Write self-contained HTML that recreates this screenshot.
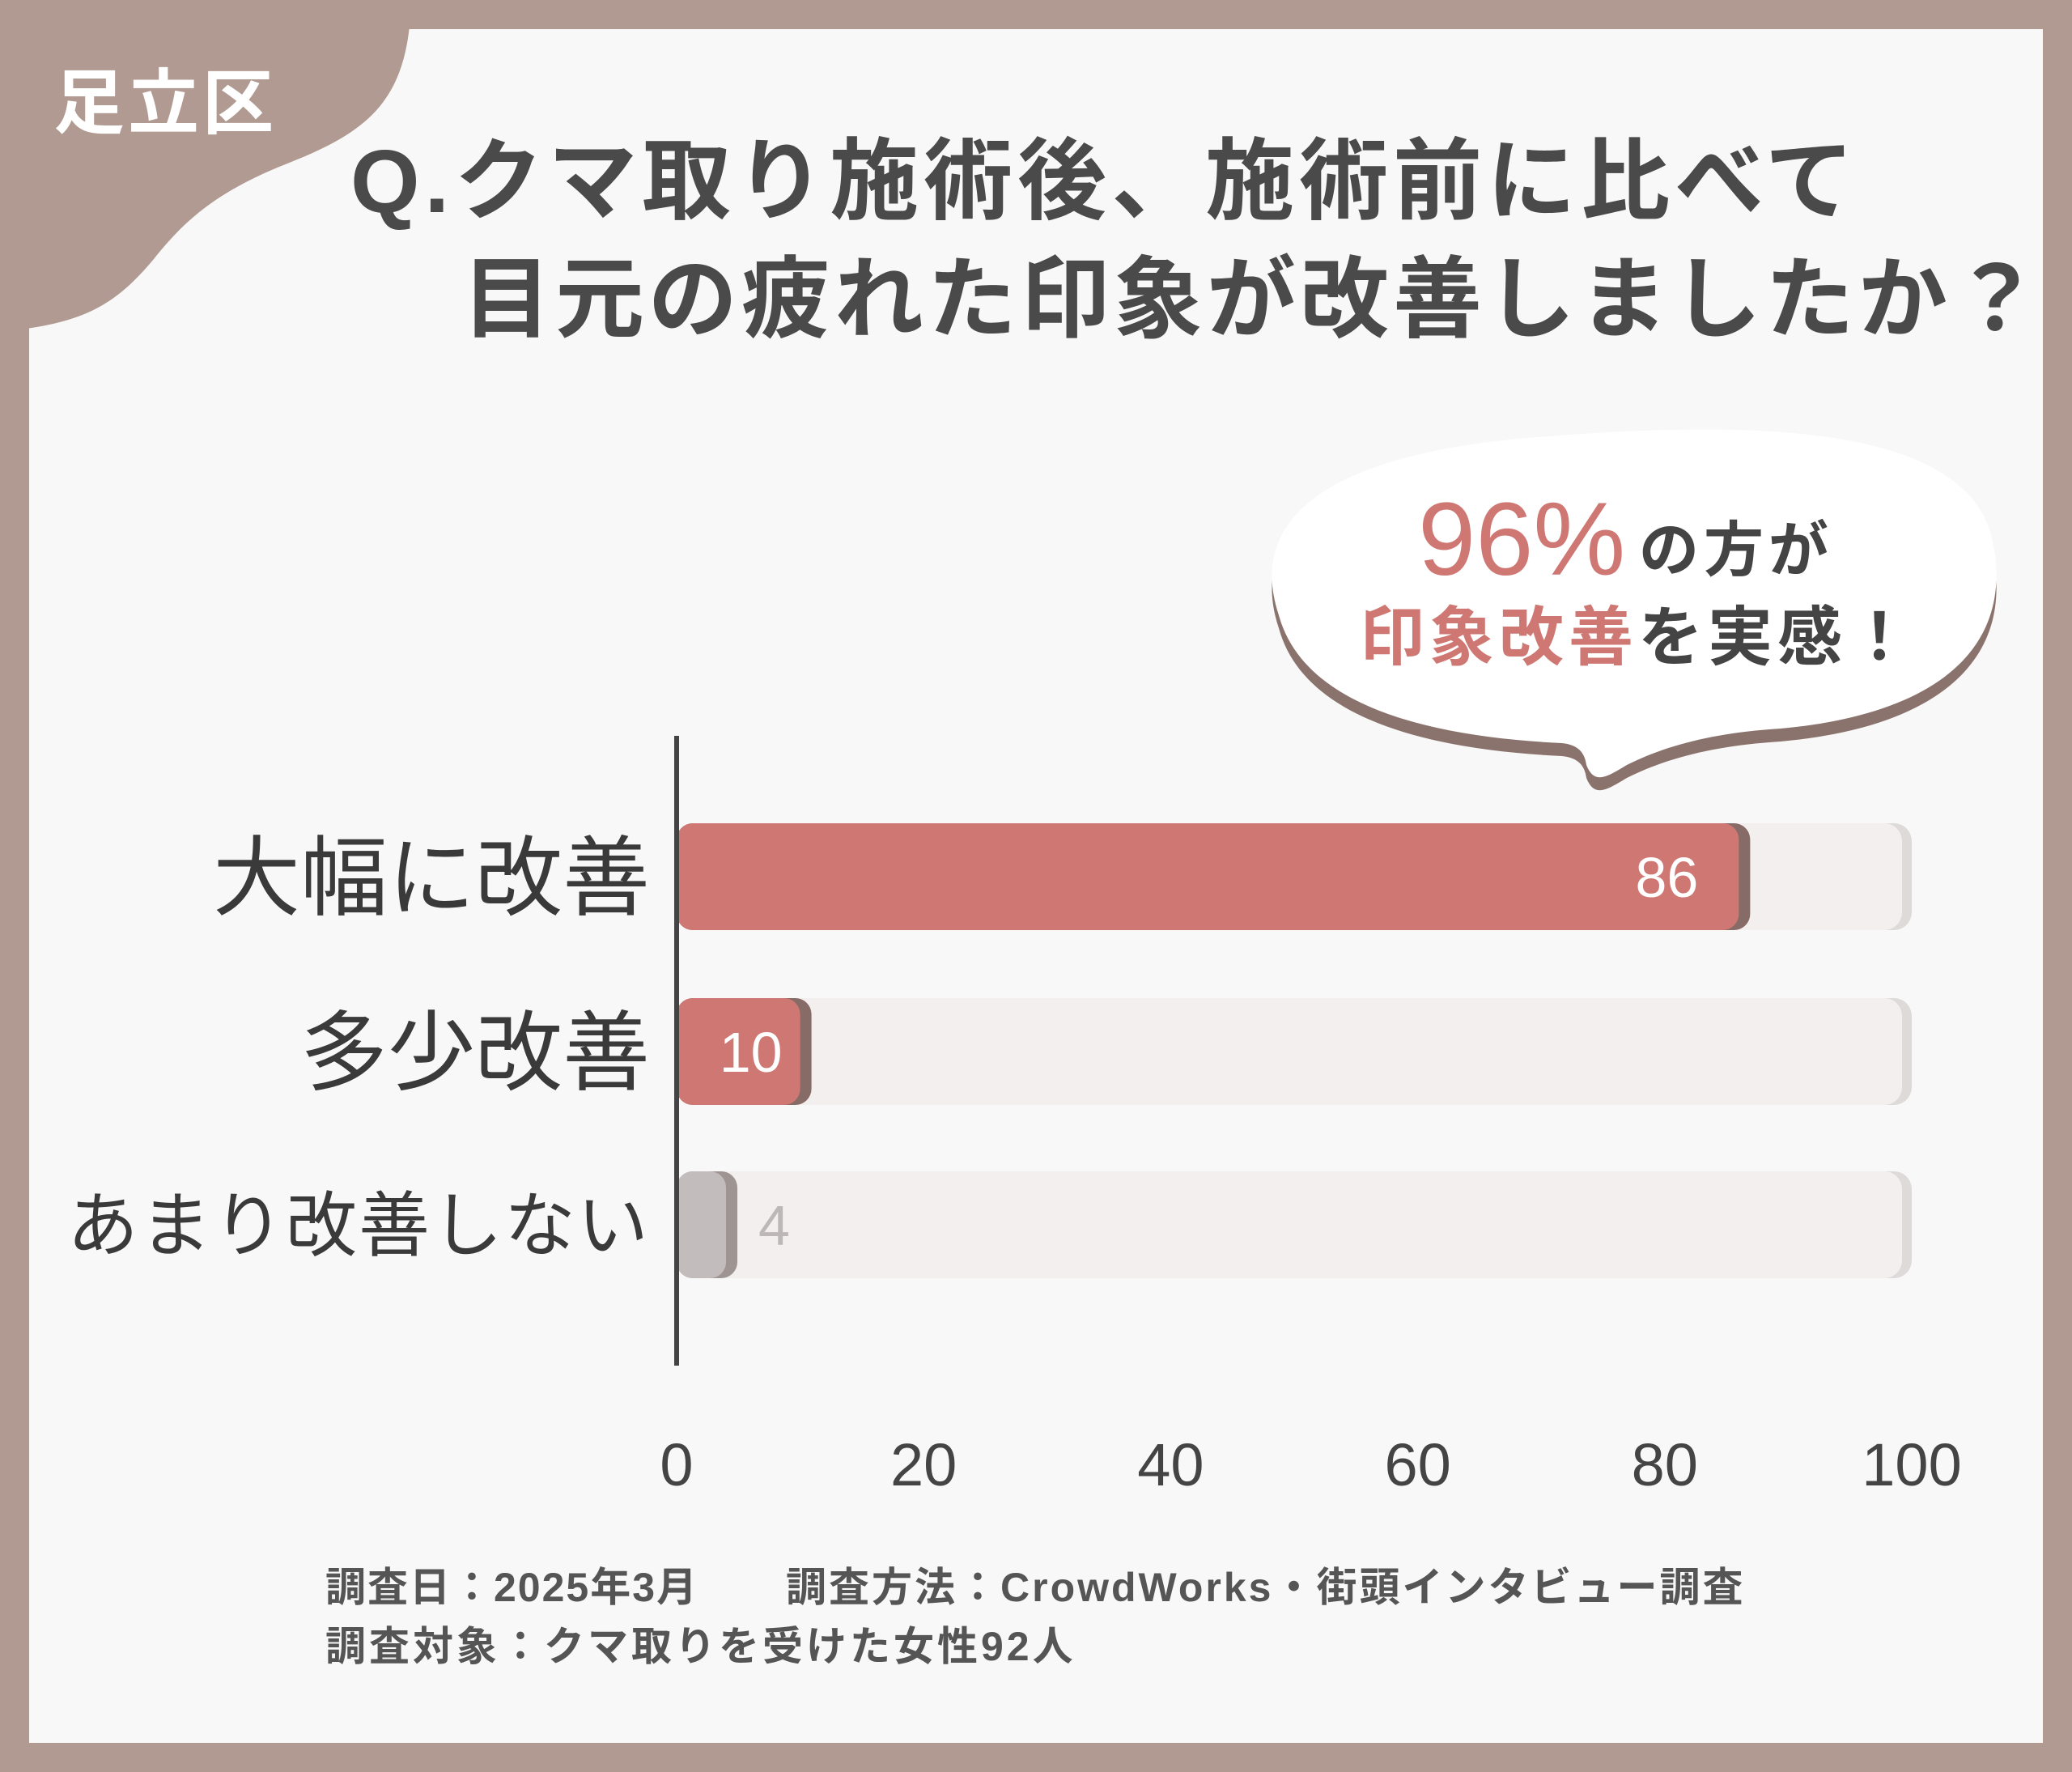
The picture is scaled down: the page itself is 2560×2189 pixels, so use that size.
<!DOCTYPE html>
<html><head><meta charset="utf-8"><style>
html,body{margin:0;padding:0;background:#b09a91}
svg{display:block}
text{font-family:"Liberation Sans","Noto Sans CJK JP",sans-serif}
</style></head><body>
<svg id="chart" width="2560" height="2189" viewBox="0 0 2560 2189" xmlns="http://www.w3.org/2000/svg">
<rect x="0" y="0" width="2560" height="2189" fill="#b09a91"/>
<rect x="36" y="36" width="2488" height="2117" fill="#f9f8f8"/>
<path d="M0 0 H508 C505 120 460 160 360 200 C270 235 230 270 190 320 C140 380 100 400 0 410 Z" fill="#b09a91"/>
<text x="66" y="158" font-size="88" font-weight="bold" fill="#ffffff" letter-spacing="4">足立区</text>
<text x="433" y="262" font-size="110" font-weight="bold" fill="#4a4a4a" letter-spacing="6">Q.クマ取り施術後、施術前に比べて</text>
<text x="571" y="408" font-size="110" font-weight="bold" fill="#4a4a4a" letter-spacing="5">目元の疲れた印象が改善しましたか？</text>
<g>
<path d="M1580 760 C1540 640 1640 560 1900 540 C2150 520 2420 520 2460 660 C2490 780 2420 880 2200 900 C2120 905 2060 920 2010 945 C1985 960 1970 970 1960 945 C1958 930 1950 920 1930 918 C1760 910 1610 870 1580 760 Z" fill="#8b736d" transform="translate(0,16)"/>
<path d="M1580 760 C1540 640 1640 560 1900 540 C2150 520 2420 520 2460 660 C2490 780 2420 880 2200 900 C2120 905 2060 920 2010 945 C1985 960 1970 970 1960 945 C1958 930 1950 920 1930 918 C1760 910 1610 870 1580 760 Z" fill="#ffffff"/>
<text x="1752" y="710" font-size="128" fill="#cf7873">96%</text>
<text x="2025" y="705" font-size="74" font-weight="bold" fill="#444" letter-spacing="6">の方が</text>
<text x="1680" y="815" font-size="80" font-weight="bold" letter-spacing="6"><tspan fill="#cf7873">印象改善</tspan><tspan fill="#444">を実感！</tspan></text>
</g>
<g id="bars"></g>
<line x1="836" y1="909" x2="836" y2="1687" stroke="#444" stroke-width="6"/>
<g id="ticks"></g>
<text x="402" y="1978" font-size="50" font-weight="bold" fill="#555" letter-spacing="2">調査日：2025年3月</text>
<text x="971" y="1978" font-size="50" font-weight="bold" fill="#555" letter-spacing="3">調査方法：CrowdWorks・街頭インタビュー調査</text>
<text x="402" y="2051" font-size="50" font-weight="bold" fill="#555" letter-spacing="4">調査対象：クマ取りを受けた女性92人</text>
</svg>
<script>
const categories = ["大幅に改善", "多少改善", "あまり改善しない"];
const values = [86, 10, 4];
const tickValues = [0, 20, 40, 60, 80, 100];
const NS = "http://www.w3.org/2000/svg";
const x0 = 836, x1 = 2362;
function xs(v){ return x0 + (x1 - x0) * v / 100; }
const rowTop = [1017, 1233, 1447];
const barH = 132;
const labelSizes = [108, 108, 88];
const bars = document.getElementById('bars');
function mk(tag, attrs, parent){ const e = document.createElementNS(NS, tag); for (const k in attrs) e.setAttribute(k, attrs[k]); parent.appendChild(e); return e; }
categories.forEach((c, i) => {
  const y = rowTop[i];
  const g = mk('g', {}, bars);
  
  
  const trackShadow = mk('rect', {x: x0, y: y, width: xs(100) - x0, height: barH, rx: 22, fill: '#dedad9'}, g);
  
  
  const track = mk('rect', {x: x0, y: y, width: xs(100) - x0 - 12, height: barH, rx: 22, fill: '#f3efee'}, g);
  
  
  const main = i < 2;
  const col = main ? '#cf7873' : '#c2bdbc';
  const sh = main ? '#866b66' : '#9e9593';
  const w = xs(values[i]) - x0;
  const s = mk('rect', {x: x0, y: y, width: w + 14, height: barH, rx: 20, fill: sh}, g);
  
  
  const b = mk('rect', {x: x0, y: y, width: w, height: barH, rx: 20, fill: col}, g);
  
  
  const lab = mk('text', {x: 803, y: y + barH/2 + labelSizes[i]*0.36, 'font-size': labelSizes[i], 'text-anchor': 'end', fill: '#3a3a3a', 'letter-spacing': i === 2 ? 2 : 0}, g);
  lab.textContent = c;
  
  
  let vt;
  if (values[i] >= 8) {
    vt = mk('text', {x: xs(values[i]) - (values[i] > 30 ? 50 : 22), y: y + barH/2 + 25, 'font-size': 70, 'text-anchor': 'end', fill: '#ffffff'}, g);
  } else {
    vt = mk('text', {x: xs(values[i]) + 40, y: y + barH/2 + 25, 'font-size': 70, 'text-anchor': 'start', fill: '#bdb8b7'}, g);
  }
  vt.textContent = values[i];
  
  
});
const ticks = document.getElementById('ticks');
tickValues.forEach(t => {
  const e = mk('text', {x: xs(t), y: 1835, 'font-size': 74, 'text-anchor': 'middle', fill: '#444'}, ticks);
  e.textContent = t;
  
  
});
</script>
</body></html>
